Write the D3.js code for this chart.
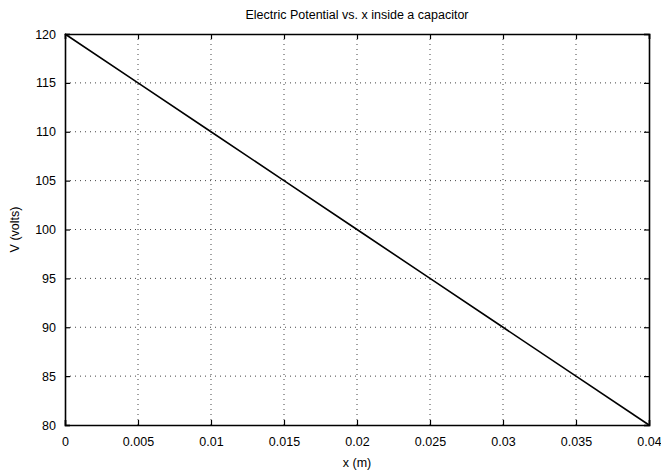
<!DOCTYPE html>
<html>
<head>
<meta charset="utf-8">
<script src="https://cdn.jsdelivr.net/npm/d3@7"></script>
<style>
   body { margin: 0; background: #fff; }
   text { font-family: "Liberation Sans", Arial, Helvetica, sans-serif; fill: #000; }
</style>
</head>
<body>
<div id="chart"></div>
<script>
// data
var xValues = [0, 0.005, 0.01, 0.015, 0.02, 0.025, 0.03, 0.035, 0.04];
var vValues = [120, 115, 110, 105, 100, 95, 90, 85, 80];
var xTicks = [0, 0.005, 0.01, 0.015, 0.02, 0.025, 0.03, 0.035, 0.04];
var yTicks = [80, 85, 90, 95, 100, 105, 110, 115, 120];

var svgWidth = 661;
var svgHeight = 471;

var margin = {
   top: 34,
   right: 12,
   bottom: 46,
   left: 65
};

var width = svgWidth - margin.left - margin.right;
var height = svgHeight - margin.top - margin.bottom;

var svg = d3.select("#chart")
   .append("svg")
   .attr("width", svgWidth)
   .attr("height", svgHeight);

var chartGroup = svg.append("g")
   .attr("transform", `translate(${margin.left}, ${margin.top})`);

// scales
var xScale = d3.scaleLinear().domain([0, 0.04]).range([0, width]);
var yScale = d3.scaleLinear().domain([80, 120]).range([height, 0]);

// dotted grid
chartGroup.append("g")
   .selectAll("line")
   .data(xTicks.slice(1, -1))
   .enter()
   .append("line")
   .attr("x1", d => xScale(d))
   .attr("x2", d => xScale(d))
   .attr("y1", 0)
   .attr("y2", height)
   .attr("stroke", "#444")
   .attr("stroke-width", 1)
   .attr("stroke-dasharray", "1,4");

chartGroup.append("g")
   .selectAll("line")
   .data(yTicks.slice(1, -1))
   .enter()
   .append("line")
   .attr("x1", 0)
   .attr("x2", width)
   .attr("y1", d => yScale(d))
   .attr("y2", d => yScale(d))
   .attr("stroke", "#444")
   .attr("stroke-width", 1)
   .attr("stroke-dasharray", "1,4");

// axes, ticks pointing inward
var fmt = d3.format("~g");
var bottomAxis = d3.axisBottom(xScale).tickValues(xTicks).tickSize(-5).tickPadding(12).tickFormat(fmt);
var leftAxis = d3.axisLeft(yScale).tickValues(yTicks).tickSize(-5).tickPadding(9).tickFormat(fmt);
var topAxis = d3.axisTop(xScale).tickValues(xTicks).tickSize(-5).tickFormat("");
var rightAxis = d3.axisRight(yScale).tickValues(yTicks).tickSize(-5).tickFormat("");

var xAxis = chartGroup.append("g")
   .attr("transform", `translate(0, ${height})`)
   .call(bottomAxis);
var yAxis = chartGroup.append("g").call(leftAxis);
chartGroup.append("g").call(topAxis);
chartGroup.append("g").attr("transform", `translate(${width}, 0)`).call(rightAxis);

chartGroup.selectAll(".domain").attr("stroke", "#000").attr("stroke-width", 1.6);
chartGroup.selectAll(".tick line").attr("stroke", "#000").attr("stroke-width", 1.2);
chartGroup.selectAll(".tick text")
   .style("font-size", "12.5px")
   .style("font-family", "'Liberation Sans', Arial, sans-serif");

// line
var line = d3.line()
   .x((d, i) => xScale(xValues[i]))
   .y(d => yScale(d));

chartGroup.append("path")
   .datum(vValues)
   .attr("d", line)
   .attr("fill", "none")
   .attr("stroke", "#000")
   .attr("stroke-width", 1.6);

// labels
svg.append("text")
   .attr("x", margin.left + width / 2)
   .attr("y", 19)
   .attr("text-anchor", "middle")
   .style("font-size", "12.5px")
   .text("Electric Potential vs. x inside a capacitor");

svg.append("text")
   .attr("x", margin.left + width / 2)
   .attr("y", 467)
   .attr("text-anchor", "middle")
   .style("font-size", "12.5px")
   .text("x (m)");

svg.append("text")
   .attr("transform", `translate(19, ${margin.top + height / 2}) rotate(-90)`)
   .attr("text-anchor", "middle")
   .style("font-size", "12.5px")
   .text("V (volts)");
</script>
</body>
</html>
